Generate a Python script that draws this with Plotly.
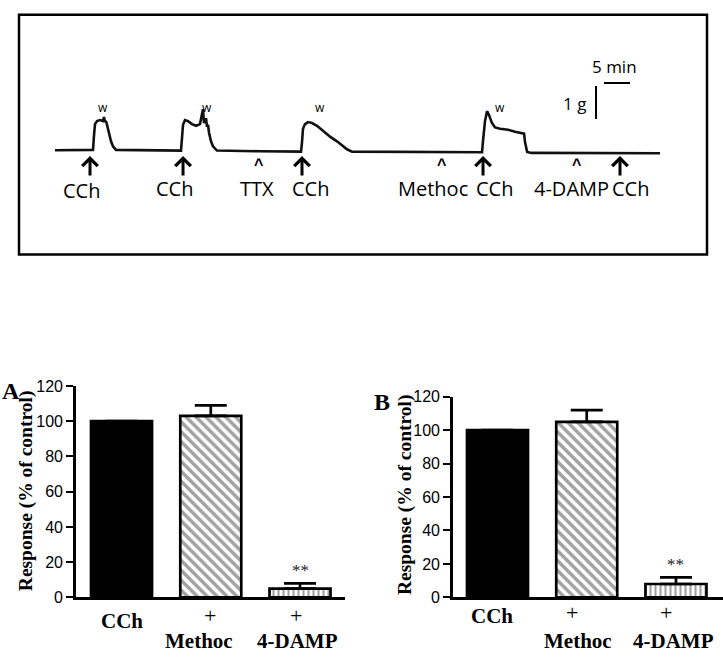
import plotly.graph_objects as go

W, H = 723, 659


def px(x):
    return x / W


def py(y):
    return 1 - y / H


# ---------------- Top panel: isometric tension recording ----------------
# time in minutes, tension in grams (baseline ~ 0)
trace_t = [0, 7.12, 7.31, 7.5, 7.69, 8.08, 8.65, 9.23, 9.42, 9.62, 9.81, 10.0, 10.38, 10.77,
           11.15, 11.73,
           24.23, 24.42, 24.62, 25.0, 25.58, 26.35, 27.12, 27.88, 28.27, 28.46, 28.65, 29.04,
           29.23, 29.42, 29.62, 30.0, 30.38, 31.15,
           39.42, 47.31,
           47.5, 47.69, 48.08, 48.65, 49.42, 50.38, 51.54, 52.88, 54.23, 55.19, 56.15, 57.12,
           82.12,
           82.31, 82.69, 83.08, 83.46, 84.04, 84.62, 85.58, 87.12, 88.46, 90.2, 90.4, 90.8,
           91.6, 116.35]
trace_g = [-0.03, -0.03, -0.02, 0.42, 0.76, 0.85, 0.88, 0.85, 0.97, 0.82, 0.85, 0.74, 0.47,
           0.24, 0.09, -0.02,
           -0.04, 0.26, 0.74, 0.88, 0.85, 0.76, 0.71, 0.76, 1.03, 1.21, 0.79, 0.94,
           0.68, 0.74, 0.5, 0.24, 0.09, -0.04,
           -0.06, -0.07,
           0.21, 0.62, 0.76, 0.82, 0.79, 0.71, 0.56, 0.38, 0.24, 0.12, 0.0, -0.07,
           -0.09,
           0.25, 0.85, 1.15, 1.03, 0.79, 0.66, 0.62, 0.59, 0.53, 0.47, 0.2, -0.08,
           -0.11, -0.12]

event_labels = ["CCh", "CCh", "TTX", "CCh", "Methoc", "CCh", "4-DAMP", "CCh"]
event_t = [6.73, 24.62, 39.04, 47.5, 74.42, 82.31, 100.38, 108.65]
event_kind = ["arrow", "arrow", "head", "arrow", "head", "arrow", "head", "arrow"]

wash_t = [9.23, 29.23, 50.96, 85.58]
wash_label = "w"

scale_min = 5
scale_g = 1

# ---------------- Bar panels ----------------
groups = ["CCh", "Methoc", "4-DAMP"]
resp_A = [100, 103, 5]
err_A = [0, 6, 3]
resp_B = [100, 105, 8]
err_B = [0, 7, 4]
sig = ["", "", "**"]
y_ticks = [0, 20, 40, 60, 80, 100, 120]

fig = go.Figure()

fig.add_trace(go.Scatter(x=trace_t, y=trace_g, mode="lines",
                         line=dict(color="#111111", width=2.6),
                         xaxis="x3", yaxis="y3", showlegend=False, hoverinfo="skip"))

bar_style = dict(
    color=["black", "white", "white"],
    line=dict(color="black", width=2.7),
    pattern=dict(shape=["", "\\", "|"], fgcolor="black",
                 size=[8, 7, 5], solidity=[0.3, 0.5, 0.42]),
)

for xa, ya, vals, errs in (("x", "y", resp_A, err_A), ("x2", "y2", resp_B, err_B)):
    fig.add_trace(go.Bar(
        x=groups, y=vals, xaxis=xa, yaxis=ya, marker=bar_style, showlegend=False,
        error_y=dict(type="data", array=errs, arrayminus=[0] * len(errs), symmetric=False,
                     color="black", thickness=2.7, width=16),
    ))

serif = "Liberation Serif"
sans = "Liberation Sans"
cal = "Open Sans"

ann = []
shapes = []


def A(**kw):
    kw.setdefault("xanchor", "center")
    kw.setdefault("yanchor", "middle")
    kw.setdefault("showarrow", False)
    ann.append(kw)


# frame of the recording
shapes.append(dict(type="rect", xref="paper", yref="paper", x0=px(19), x1=px(707),
                   y0=py(253), y1=py(7), line=dict(color="black", width=2.5)))

# calibration bars
sb_t = 104.04
sb_g_top = 1.91
sb_h_t0 = 105.58
sb_h_g = 2.0
shapes.append(dict(type="line", xref="x3", yref="y3", x0=sb_t, x1=sb_t,
                   y0=sb_g_top - scale_g, y1=sb_g_top, line=dict(color="black", width=2)))
shapes.append(dict(type="line", xref="x3", yref="y3", x0=sb_h_t0, x1=sb_h_t0 + scale_min,
                   y0=sb_h_g, y1=sb_h_g, line=dict(color="black", width=2)))
A(x=sb_h_t0 + scale_min / 2, y=sb_h_g, xref="x3", yref="y3", text=f"{scale_min} min",
  yanchor="bottom", yshift=3, xshift=-3, font=dict(family=cal, size=17, color="black"))
A(x=sb_t, y=sb_g_top - scale_g / 2, xref="x3", yref="y3", text=f"{scale_g} g",
  xanchor="right", xshift=-8, yshift=-1, font=dict(family=cal, size=17, color="black"))

for t in wash_t:
    A(x=t, y=py(102), xref="x3", yref="paper", text=wash_label,
      font=dict(family=cal, size=12, color="black"))

label_dx = [-9, -9, -1, 8, -9, 11, -5, 11]
label_y = [187, 185, 185, 185, 185, 185, 185, 185]
for lab, t, kind, dx, ly in zip(event_labels, event_t, event_kind, label_dx, label_y):
    if kind == "arrow":
        ann.append(dict(x=t, y=-0.2, xref="x3", yref="y3", text="", showarrow=True,
                        ax=0, ay=21, arrowhead=4, arrowsize=1.0, arrowwidth=3,
                        arrowcolor="black"))
    else:
        A(x=t, y=py(161), xref="x3", yref="paper", text="<b>^</b>",
          font=dict(family=sans, size=16, color="black"))
    A(x=t, y=py(ly), xref="x3", yref="paper", text=lab, xshift=dx,
      font=dict(family=cal, size=20, color="black"))

panels = [
    dict(xa="x", ya="y", letter="A", lx=11, ly=393, tx=26, ty=496, vals=resp_A, errs=err_A,
         l1y=[629, 624, 624], l2y=650, l1dx=[0, -1, -4], l2dx=[0, -12, -3]),
    dict(xa="x2", ya="y2", letter="B", lx=382, ly=404, tx=405, ty=500, vals=resp_B, errs=err_B,
         l1y=[624, 621, 621], l2y=650, l1dx=[-5, -15, -10], l2dx=[0, -9, -2]),
]
for p in panels:
    A(x=px(p["lx"]), y=py(p["ly"]), xref="paper", yref="paper",
      text=f"<b>{p['letter']}</b>", font=dict(family=serif, size=24, color="black"))
    A(x=px(p["tx"]), y=py(p["ty"]), xref="paper", yref="paper",
      text="<b>Response (% of control)</b>", textangle=-90,
      font=dict(family=serif, size=19.5, color="black"))
    for i, g in enumerate(groups):
        if i == 0:
            A(x=g, y=py(p["l1y"][i]), xref=p["xa"], yref="paper", text=f"<b>{g}</b>",
              xshift=p["l1dx"][i], font=dict(family=serif, size=21, color="black"))
        else:
            A(x=g, y=py(p["l1y"][i]), xref=p["xa"], yref="paper", text="+",
              xshift=p["l1dx"][i], font=dict(family=serif, size=22, color="black"))
            A(x=g, y=py(p["l2y"]), xref=p["xa"], yref="paper", text=f"<b>{g}</b>",
              xshift=p["l2dx"][i], font=dict(family=serif, size=21, color="black"))
        if sig[i]:
            A(x=g, y=p["vals"][i] + p["errs"][i], xref=p["xa"], yref=p["ya"], text=sig[i],
              yanchor="bottom", yshift=1, font=dict(family=serif, size=17, color="#222222"))

xcommon = dict(showticklabels=False, ticks="", showline=True, linecolor="black",
               linewidth=2.7, showgrid=False, zeroline=False, fixedrange=True)
ycommon = dict(range=[0, 120], tickvals=y_ticks, ticks="outside", ticklen=7, tickwidth=2.2,
               tickcolor="black", showline=True, linecolor="black", linewidth=2.7,
               showgrid=False, zeroline=False, tickfont=dict(family=sans, size=16, color="black"))

fig.update_layout(
    width=W, height=H, margin=dict(l=0, r=0, t=0, b=0),
    paper_bgcolor="white", plot_bgcolor="white", bargap=0.3165,
    xaxis=dict(domain=[px(76), px(345)], range=[-0.51, 2.504], anchor="y", **xcommon),
    yaxis=dict(domain=[py(605), py(388)], anchor="x", **ycommon),
    xaxis2=dict(domain=[px(453), 1.0], range=[-0.4986, 2.527], anchor="y2", **xcommon),
    yaxis2=dict(domain=[py(605), py(399)], anchor="x2", **ycommon),
    xaxis3=dict(domain=[px(19), px(706)], range=[-6.923, 125.19], visible=False, anchor="y3"),
    yaxis3=dict(domain=[py(253), py(8)], range=[-3.176, 4.029], visible=False, anchor="x3"),
    annotations=ann, shapes=shapes, showlegend=False,
)

fig.write_html("out.html", config={"displayModeBar": False},
               post_script="document.body.style.margin='0';document.body.style.overflow='hidden';")
